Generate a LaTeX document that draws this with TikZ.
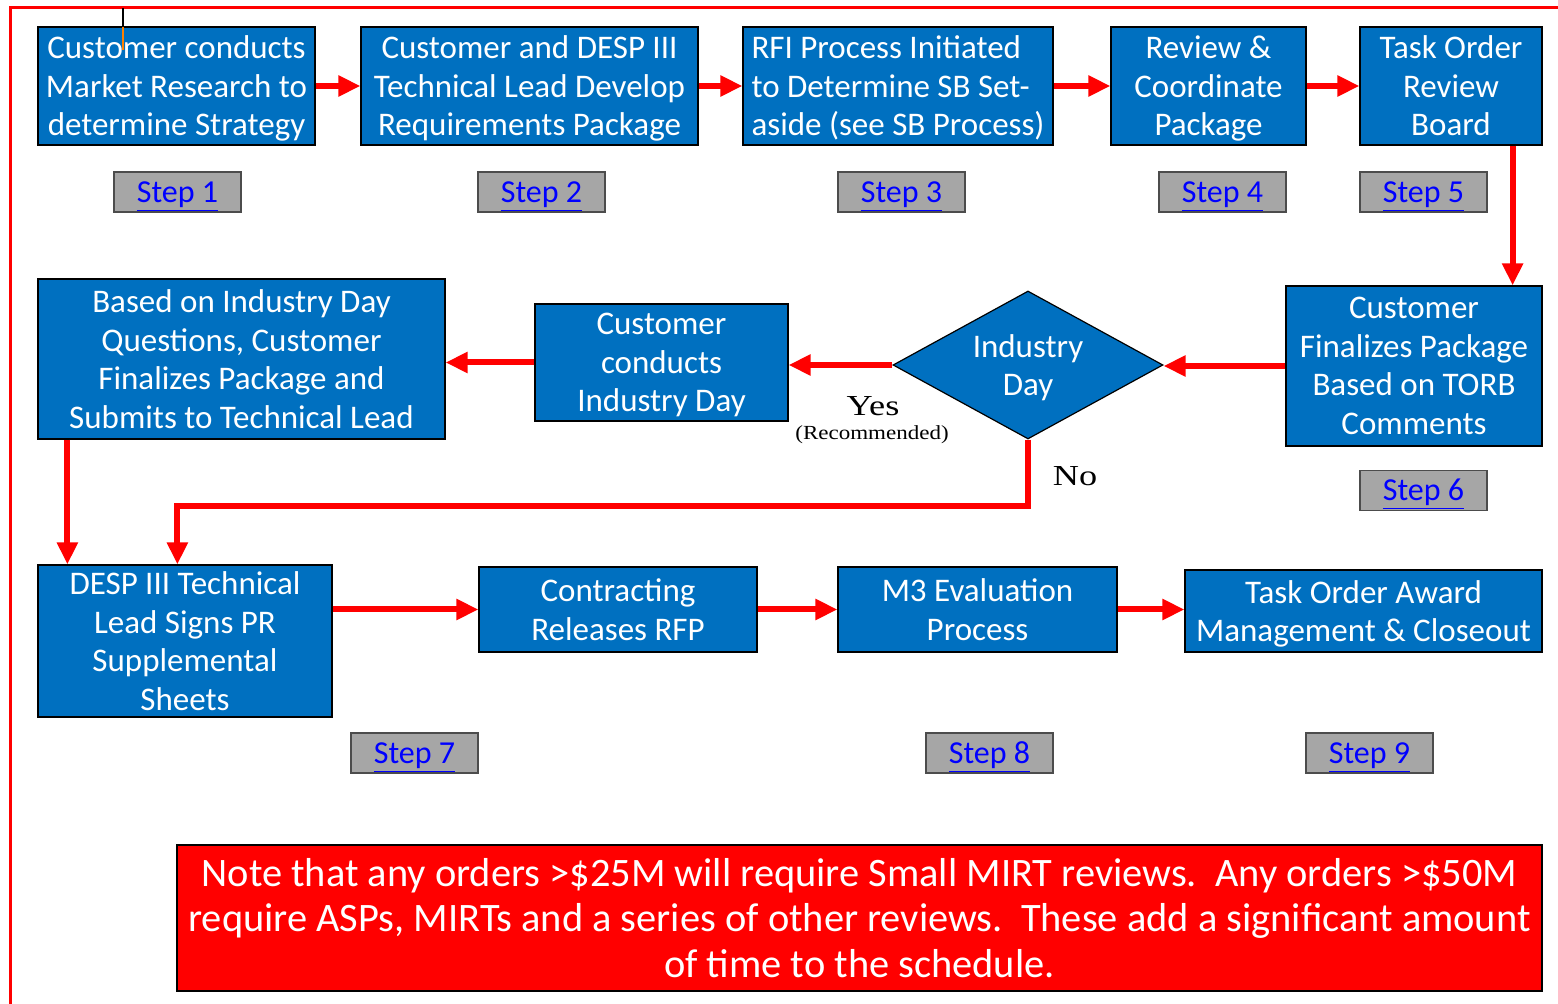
\documentclass[tikz,border=0pt]{standalone}
\usepackage{fontspec}
\setmainfont{Carlito}
\newfontfamily\timesfont{Liberation Serif}
\usetikzlibrary{shapes.geometric,arrows.meta}
\definecolor{boxblue}{HTML}{0070C0}
\definecolor{stepgray}{HTML}{A6A6A6}
\definecolor{linkblue}{HTML}{0000FF}
\definecolor{flowred}{HTML}{FF0000}

\begin{document}
\begin{tikzpicture}[
    x=0.5pt, y=-0.5pt,
    >={Triangle[length=11pt,width=10pt]},
    block/.style={rectangle, draw=black, line width=0.6pt, fill=boxblue, text=white,
        align=center, inner sep=1pt, text depth=0pt, font=\fontsize{16.5}{19.25}\selectfont},
    decision/.style={diamond, aspect=1.82, draw=black, line width=0.6pt, fill=boxblue, text=white,
        align=center, inner sep=0pt, text depth=0pt, font=\fontsize{16.5}{19.25}\selectfont},
    stepbox/.style={rectangle, draw=black!70, line width=0.8pt, fill=stepgray,
        minimum width=63.5pt, minimum height=20pt, inner sep=0pt,
        text height=10.3pt, text depth=0pt,
        text=linkblue, font=\fontsize{16}{19}\selectfont},
    flow/.style={->, draw=flowred, line width=3pt},
    answer/.style={inner sep=0pt, align=center, font=\timesfont\fontsize{14.5}{16}\selectfont}
]
\useasboundingbox (0,0) rectangle (1558,1004);
% Frame
\draw[flowred, line width=1.5pt] (10,1004) -- (10,8) -- (1558,8);

% Blocks
\node[block, minimum width=138.5pt, minimum height=59pt] (b1) at (176.5,86)
    {Customer conducts\\Market Research to\\determine Strategy};
\node[block, minimum width=168.5pt, minimum height=59pt] (b2) at (529.5,86)
    {Customer and DESP III\\Technical Lead Develop\\Requirements Package};
\node[block, minimum width=155pt, minimum height=59pt, align=left] (b3) at (898,86)
    {RFI Process Initiated\\to Determine SB Set-\\aside (see SB Process)};
\node[block, minimum width=97.5pt, minimum height=59pt] (b4) at (1208.5,86)
    {Review \&\\Coordinate\\Package};
\node[block, minimum width=91pt, minimum height=59pt] (b5) at (1451,86)
    {Task Order\\Review\\Board};
\node[block, minimum width=128pt, minimum height=80pt] (b6) at (1414,366)
    {Customer\\Finalizes Package\\Based on TORB\\Comments};
\node[decision, minimum width=135pt, minimum height=74pt] (idd) at (1028,365)
    {Industry\\Day};
\node[block, minimum width=126.5pt, minimum height=58.5pt] (b8) at (661.5,362.5)
    {Customer\\conducts\\Industry Day};
\node[block, minimum width=203.5pt, minimum height=80pt] (b9) at (241.5,359)
    {Based on Industry Day\\Questions, Customer\\Finalizes Package and\\Submits to Technical Lead};
\node[block, minimum width=147pt, minimum height=76pt] (b10) at (185,641)
    {DESP III Technical\\Lead Signs PR\\Supplemental\\Sheets};
\node[block, minimum width=139pt, minimum height=42.5pt] (b11) at (618,609.5)
    {Contracting\\Releases RFP};
\node[block, minimum width=139.5pt, minimum height=42.5pt] (b12) at (977.5,609.5)
    {M3 Evaluation\\Process};
\node[block, minimum width=178.5pt, minimum height=41pt] (b13) at (1363.5,611)
    {Task Order Award\\Management \& Closeout};

% tick over the first block
\draw[black, line width=1.2pt] (123,8) -- (123,27);
\draw[orange, line width=1pt] (123,27) -- (123,50);

% Steps
\node[stepbox] (s1) at (177.5,192) {\underline{Step 1}};
\node[stepbox] (s2) at (541.5,192) {\underline{Step 2}};
\node[stepbox] (s3) at (901.5,192) {\underline{Step 3}};
\node[stepbox] (s4) at (1222.5,192) {\underline{Step 4}};
\node[stepbox] (s5) at (1423.5,192) {\underline{Step 5}};
\node[stepbox] (s6) at (1423.5,490.5) {\underline{Step 6}};
\node[stepbox] (s7) at (414.5,753) {\underline{Step 7}};
\node[stepbox] (s8) at (989.5,753) {\underline{Step 8}};
\node[stepbox] (s9) at (1369.5,753) {\underline{Step 9}};

% Note
\node[rectangle, draw=black, line width=0.8pt, fill=flowred, text=white, align=center,
    minimum width=682.5pt, minimum height=73pt, inner sep=0pt,
    font=\fontsize{20.2}{22.75}\selectfont] (note) at (859.5,918)
    {Note that any orders >\$25M will require Small MIRT reviews.\ \ Any orders >\$50M\\
     require ASPs, MIRTs and a series of other reviews.\ \ These add a significant amount\\
     of time to the schedule.};

% Connections
\draw[flow] (b1) -- (b2);
\draw[flow] (b2) -- (b3);
\draw[flow] (b3) -- (b4);
\draw[flow] (b4) -- (b5);
\draw[flow] ([xshift=-15pt]b5.south east) -- ([xshift=-15pt]b5.south east |- b6.north);
\draw[flow] (b6.west) -- (b6.west -| idd.east);
\draw[flow] (idd.west) -- (idd.west -| b8.east);
\draw[flow] (b8.west) -- (b8.west -| b9.east);
\draw[flow] ([xshift=15pt]b9.south west) -- ([xshift=15pt]b9.south west |- b10.north);
\draw[flow] (idd.south) -- ++(0,66) -| ([xshift=70pt]b10.north west);
\draw[flow] (b11.west -| b10.east) -- (b11.west);
\draw[flow] (b11) -- (b12);
\draw[flow] (b12.east) -- (b12.east -| b13.west);

% Labels
\node[answer] (yes) at (873,406) {\scalebox{1.25}[1]{Yes}};
\node[answer, font=\timesfont\fontsize{10}{12}\selectfont] (rec) at (872,435) {\scalebox{1.15}[1]{(Recommended)}};
\node[answer] (no) at (1075,476) {\scalebox{1.25}[1]{No}};
\end{tikzpicture}
\end{document}
